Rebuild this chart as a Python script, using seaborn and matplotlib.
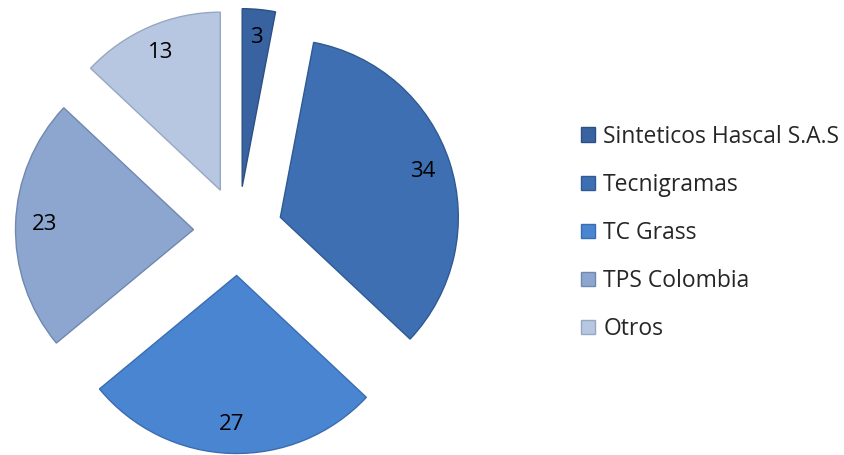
import matplotlib
matplotlib.use('Agg')
import matplotlib.pyplot as plt
import seaborn as sns

# datos
empresas = ['Sinteticos Hascal S.A.S', 'Tecnigramas', 'TC Grass', 'TPS Colombia', 'Otros']
valores = [3, 34, 27, 23, 13]
colores = ['#3863A0', '#3D6FB2', '#4A85D2', '#8DA6CF', '#B8C7E1']
bordes = ['#2C5083', '#305A92', '#3A6DB0', '#7088B0', '#97A7C2']

sns.set_theme(style='white')
plt.rcParams['font.family'] = ['Open Sans', 'DejaVu Sans']

fig = plt.figure(figsize=(8.45, 4.55), dpi=100)
ax = fig.add_axes([0, 0, 1, 1])

R = 178.0  # px por unidad de radio
cx, cy = 238, 231
W, H = 845, 455

wedges, texts, autotexts = ax.pie(
    valores, startangle=90, counterclock=False,
    explode=[0.25] * len(valores), colors=colores,
    autopct=lambda p: '%d' % round(p * sum(valores) / 100),
    pctdistance=0.84, radius=1,
    wedgeprops=dict(linewidth=1.0),
    textprops=dict(fontsize=16, color='black'))
for w, b in zip(wedges, bordes):
    w.set_edgecolor(b)

ax.set_xlim(-cx / R, (W - cx) / R)
ax.set_ylim(-(H - cy) / R, cy / R)
ax.set_aspect('equal')
ax.axis('off')

leg = fig.legend(wedges, empresas, loc='center left', bbox_to_anchor=(0.688, 0.488),
                 frameon=False, fontsize=16.5, labelspacing=1.05,
                 handlelength=0.6, handleheight=0.6, handletextpad=0.35,
                 borderaxespad=0, borderpad=0)

fig.savefig('out.png', dpi=100)
